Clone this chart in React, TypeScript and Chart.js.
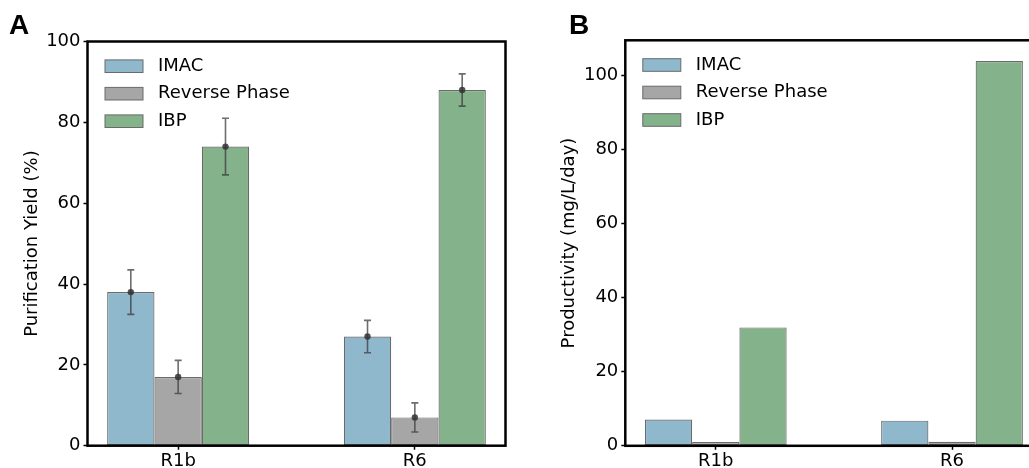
import React, { useEffect, useRef } from "react";
import { Chart, registerables } from "chart.js";

Chart.register(...registerables);

const categories = ["R1b", "R6"];
const seriesNames = ["IMAC", "Reverse Phase", "IBP"];

// Panel A: purification yield (%) with error bars
const imacYield = [38, 27];
const rpYield = [17, 7];
const ibpYield = [74, 88];
const imacYieldErr = [5.5, 4];
const rpYieldErr = [4.1, 3.6];
const ibpYieldErr = [7, 4];

// Panel B: productivity (mg/L/day)
const imacProd = [7.1, 6.8];
const rpProd = [1.0, 1.1];
const ibpProd = [32, 104];

const yTicksA = [0, 20, 40, 60, 80, 100];
const yTicksB = [0, 20, 40, 60, 80, 100];

const fillColors = ["#8fb8cd", "#a6a6a6", "#84b28a"];
const edgeColor = "#6a6a6a";
const FONT = "'DejaVu Sans', sans-serif";

const frameAndExtras = {
  id: "frameAndExtras",
  afterDatasetsDraw(chart: any) {
    const { ctx, chartArea } = chart;
    const yScale = chart.scales.y;
    // error bars
    chart.data.datasets.forEach((ds: any, di: number) => {
      if (!ds.errors) return;
      const meta = chart.getDatasetMeta(di);
      meta.data.forEach((bar: any, i: number) => {
        const v = ds.data[i].y;
        const e = ds.errors[i];
        const x = bar.x;
        const yTop = yScale.getPixelForValue(v + e);
        const yBot = yScale.getPixelForValue(v - e);
        const yMid = yScale.getPixelForValue(v);
        ctx.save();
        ctx.strokeStyle = "rgba(60,60,60,0.75)";
        ctx.lineWidth = 1.6;
        ctx.beginPath();
        ctx.moveTo(x, yTop);
        ctx.lineTo(x, yBot);
        ctx.moveTo(x - 3.5, yTop);
        ctx.lineTo(x + 3.5, yTop);
        ctx.moveTo(x - 3.5, yBot);
        ctx.lineTo(x + 3.5, yBot);
        ctx.stroke();
        ctx.fillStyle = "rgba(50,50,50,0.85)";
        ctx.beginPath();
        ctx.arc(x, yMid, 3.2, 0, Math.PI * 2);
        ctx.fill();
        ctx.restore();
      });
    });
    // legend inside axes
    ctx.save();
    chart.data.datasets.forEach((ds: any, di: number) => {
      const cy = chartArea.top + 24.7 + di * 27.5;
      const bx = chartArea.left + 17.5;
      ctx.fillStyle = ds.backgroundColor;
      ctx.strokeStyle = edgeColor;
      ctx.lineWidth = 1;
      ctx.fillRect(bx, cy - 6.3, 38, 12.6);
      ctx.strokeRect(bx, cy - 6.3, 38, 12.6);
      ctx.fillStyle = "#000";
      ctx.font = `18px ${FONT}`;
      ctx.textBaseline = "middle";
      ctx.textAlign = "left";
      ctx.fillText(ds.label, chartArea.left + 70.5, cy);
    });
    ctx.restore();
    // frame
    ctx.save();
    ctx.strokeStyle = "#000";
    ctx.lineWidth = 2.5;
    ctx.strokeRect(
      chartArea.left,
      chartArea.top,
      chartArea.right - chartArea.left,
      chartArea.bottom - chartArea.top
    );
    ctx.restore();
  },
};

function makeConfig(
  values: number[][],
  errors: (number[] | null)[],
  yMax: number,
  yTicks: number[],
  yTitle: string,
  pad: { left: number; top: number; right: number },
  yWidth: number,
  xHeight: number
): any {
  return {
    type: "bar",
    data: {
      datasets: values.map((vals, si) => ({
        label: seriesNames[si],
        data: vals.map((v, i) => ({ x: i, y: v })),
        errors: errors[si],
        backgroundColor: fillColors[si],
        borderColor: edgeColor,
        borderWidth: 1.2,
        borderSkipped: false,
        categoryPercentage: 0.6,
        barPercentage: 1.0,
      })),
    },
    options: {
      animation: false,
      responsive: false,
      maintainAspectRatio: false,
      layout: { padding: { left: pad.left, top: pad.top, right: pad.right, bottom: 0 } },
      plugins: { legend: { display: false }, tooltip: { enabled: false }, title: { display: false } },
      scales: {
        x: {
          type: "linear",
          offset: false,
          min: -0.383,
          max: 1.383,
          afterBuildTicks: (axis: any) => {
            axis.ticks = categories.map((_, i) => ({ value: i }));
          },
          afterFit: (axis: any) => {
            axis.height = xHeight;
          },
          ticks: {
            callback: (v: number) => categories[v],
            font: { family: FONT, size: 18 },
            color: "#000",
            padding: 1,
            maxRotation: 0,
          },
          grid: {
            offset: false,
            drawOnChartArea: false,
            drawTicks: true,
            tickLength: 4,
            tickColor: "#000",
            tickWidth: 1.5,
          },
          border: { display: false },
        },
        y: {
          type: "linear",
          min: 0,
          max: yMax,
          afterBuildTicks: (axis: any) => {
            axis.ticks = yTicks.map((v) => ({ value: v }));
          },
          afterFit: (axis: any) => {
            axis.width = yWidth;
          },
          ticks: {
            font: { family: FONT, size: 18 },
            color: "#000",
            padding: 3,
          },
          grid: {
            drawOnChartArea: false,
            drawTicks: true,
            tickLength: 4,
            tickColor: "#000",
            tickWidth: 1.5,
          },
          border: { display: false },
          title: {
            display: true,
            text: yTitle,
            font: { family: FONT, size: 18 },
            color: "#000",
            padding: { top: 4, bottom: 0 },
          },
        },
      },
    },
    plugins: [frameAndExtras],
  };
}

function Panel(props: { config: any; left: number; width: number; letter: string; letterX: number }) {
  const ref = useRef<HTMLCanvasElement | null>(null);
  useEffect(() => {
    if (!ref.current) return;
    const chart = new Chart(ref.current, props.config);
    return () => chart.destroy();
  }, []);
  return (
    <>
      <canvas
        ref={ref}
        width={props.width}
        height={468}
        style={{ position: "absolute", left: props.left, top: 0, width: props.width, height: 468 }}
      />
      <div
        style={{
          position: "absolute",
          left: props.letterX,
          top: 9,
          fontFamily: "'Liberation Sans', Arial, sans-serif",
          fontWeight: "bold",
          fontSize: 28,
          lineHeight: "32px",
          color: "#000",
        }}
      >
        {props.letter}
      </div>
    </>
  );
}

export default function App() {
  const configA = makeConfig(
    [imacYield, rpYield, ibpYield],
    [imacYieldErr, rpYieldErr, ibpYieldErr],
    100,
    yTicksA,
    "Purification Yield (%)",
    { left: 18, top: 41.5, right: 530 - 505.5 },
    87.5 - 18,
    468 - 445.7
  );
  const configB = makeConfig(
    [imacProd, rpProd, ibpProd],
    [null, null, null],
    109.6,
    yTicksB,
    "Productivity (mg/L/day)",
    { left: 35, top: 40.3, right: 560 - 522.5 },
    105.3 - 35,
    468 - 445.8
  );
  return (
    <div
      style={{
        position: "fixed",
        left: 0,
        top: 0,
        width: 1029,
        height: 468,
        overflow: "hidden",
        background: "#fff",
      }}
    >
      <Panel config={configA} left={0} width={530} letter="A" letterX={9} />
      <Panel config={configB} left={520} width={560} letter="B" letterX={569} />
    </div>
  );
}
